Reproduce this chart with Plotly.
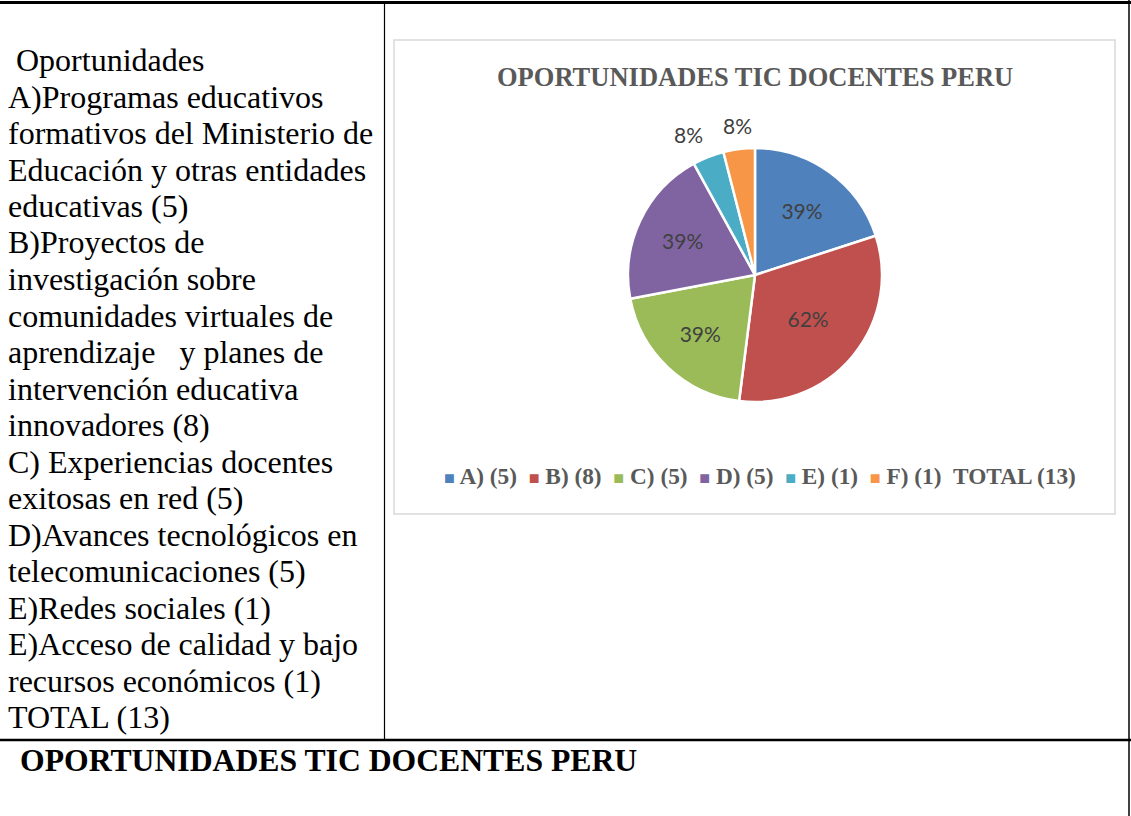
import math
import plotly.graph_objects as go

# ---------------- data ----------------
categories = ["A) (5)", "B) (8)", "C) (5)", "D) (5)", "E) (1)", "F) (1)"]
values = [5, 8, 5, 5, 1, 1]
pct_labels = ["39%", "62%", "39%", "39%", "8%", "8%"]   # data labels as printed on the chart
total_label = "TOTAL (13)"
colors = ["#4F81BD", "#C0504D", "#9BBB59", "#8064A2", "#4BACC6", "#F79646"]
inside_label = [True, True, True, True, False, False]

chart_title = "OPORTUNIDADES TIC DOCENTES PERU"
left_lines = [
    "\u00a0Oportunidades",
    "A)Programas educativos",
    "formativos del Ministerio de",
    "Educación y otras entidades",
    "educativas (5)",
    "B)Proyectos de",
    "investigación sobre",
    "comunidades virtuales de",
    "aprendizaje\u00a0\u00a0 y planes de",
    "intervención educativa",
    "innovadores (8)",
    "C) Experiencias docentes",
    "exitosas en red (5)",
    "D)Avances tecnológicos en",
    "telecomunicaciones (5)",
    "E)Redes sociales (1)",
    "E)Acceso de calidad y bajo",
    "recursos económicos (1)",
    "TOTAL (13)",
]

W, H = 1131, 816
SERIF = "Liberation Serif, Times New Roman, serif"
LABEL_FONT = dict(family="Lato, Open Sans, sans-serif", size=21, color="#404040")


def px(x):
    return x / W


def py(y):
    return 1 - y / H


# pie geometry (pixels)
PIE_L, PIE_R, PIE_T, PIE_B = 628, 882, 148, 402
cx, cy = (PIE_L + PIE_R) / 2, (PIE_T + PIE_B) / 2
rad = (PIE_R - PIE_L) / 2

fig = go.Figure()
fig.add_trace(go.Pie(
    labels=categories,
    values=values,
    text=pct_labels,
    texttemplate="%{text}",
    textposition=["inside" if f else "none" for f in inside_label],
    insidetextorientation="horizontal",
    textfont=LABEL_FONT,
    marker=dict(colors=colors, line=dict(color="white", width=2.5)),
    sort=False,
    direction="clockwise",
    rotation=0,
    showlegend=False,
    domain=dict(x=[px(PIE_L), px(PIE_R)], y=[py(PIE_B), py(PIE_T)]),
))

shapes = []
# table lines
shapes.append(dict(type="line", xref="paper", yref="paper", x0=0, x1=1, y0=py(2.5), y1=py(2.5),
                   line=dict(color="black", width=3)))
shapes.append(dict(type="line", xref="paper", yref="paper", x0=0, x1=1, y0=py(740), y1=py(740),
                   line=dict(color="black", width=2.5)))
shapes.append(dict(type="line", xref="paper", yref="paper", x0=px(384.5), x1=px(384.5), y0=py(2.5), y1=py(740),
                   line=dict(color="black", width=1.2)))
shapes.append(dict(type="line", xref="paper", yref="paper", x0=px(1129), x1=px(1129), y0=py(0), y1=py(816),
                   line=dict(color="black", width=1.5)))
# chart area border
shapes.append(dict(type="rect", xref="paper", yref="paper", x0=px(394), x1=px(1115), y0=py(514), y1=py(40),
                   line=dict(color="#D9D9D9", width=1.5), fillcolor="rgba(0,0,0,0)"))

annotations = []
# left column text
for i, line in enumerate(left_lines):
    annotations.append(dict(
        text=line, xref="paper", yref="paper", x=px(6), y=py(60 + i * 36.5),
        xanchor="left", yanchor="middle", showarrow=False,
        font=dict(family=SERIF, size=32, color="black"),
    ))

# outside data labels for the small slices, placed on each slice's mid angle
total_val = sum(values)
cum = 0
for v, lab, inside in zip(values, pct_labels, inside_label):
    mid = (cum + v / 2) / total_val * 2 * math.pi
    cum += v
    if inside:
        continue
    r_out = rad * 1.07
    s, c = math.sin(mid), math.cos(mid)
    xa = "right" if s < -0.3 else ("left" if s > 0.3 else "center")
    ya = "bottom" if c > 0.3 else ("top" if c < -0.3 else "middle")
    annotations.append(dict(
        text=lab, xref="paper", yref="paper",
        x=px(cx + r_out * s), y=py(cy - r_out * c),
        xanchor=xa, yanchor=ya, showarrow=False, font=LABEL_FONT,
    ))

# chart title
annotations.append(dict(
    text=f"<b>{chart_title}</b>", xref="paper", yref="paper", x=px(755), y=py(77),
    xanchor="center", yanchor="middle", showarrow=False,
    font=dict(family=SERIF, size=26.5, color="#595959"),
))

# legend line
parts = []
for c, col in zip(categories, colors):
    parts.append(f"<span style='font-size:18px;color:{col}'>■</span> {c}")
legend_text = "<b>" + "\u00a0 ".join(parts) + "\u00a0\u00a0" + total_label + "</b>"
annotations.append(dict(
    text=legend_text, xref="paper", yref="paper", x=px(759.5), y=py(476),
    xanchor="center", yanchor="middle", showarrow=False,
    font=dict(family=SERIF, size=23.3, color="#595959"),
))

# bottom row caption
annotations.append(dict(
    text=f"<b>{chart_title}</b>", xref="paper", yref="paper", x=px(18), y=py(760),
    xanchor="left", yanchor="middle", showarrow=False,
    font=dict(family=SERIF, size=31.7, color="black"),
))

fig.update_layout(
    width=W, height=H,
    margin=dict(l=0, r=0, t=0, b=0),
    paper_bgcolor="white", plot_bgcolor="white",
    shapes=shapes, annotations=annotations,
    showlegend=False,
)

fig.write_html("out.html", config={"displayModeBar": False},
               post_script="document.body.style.margin='0px';")
